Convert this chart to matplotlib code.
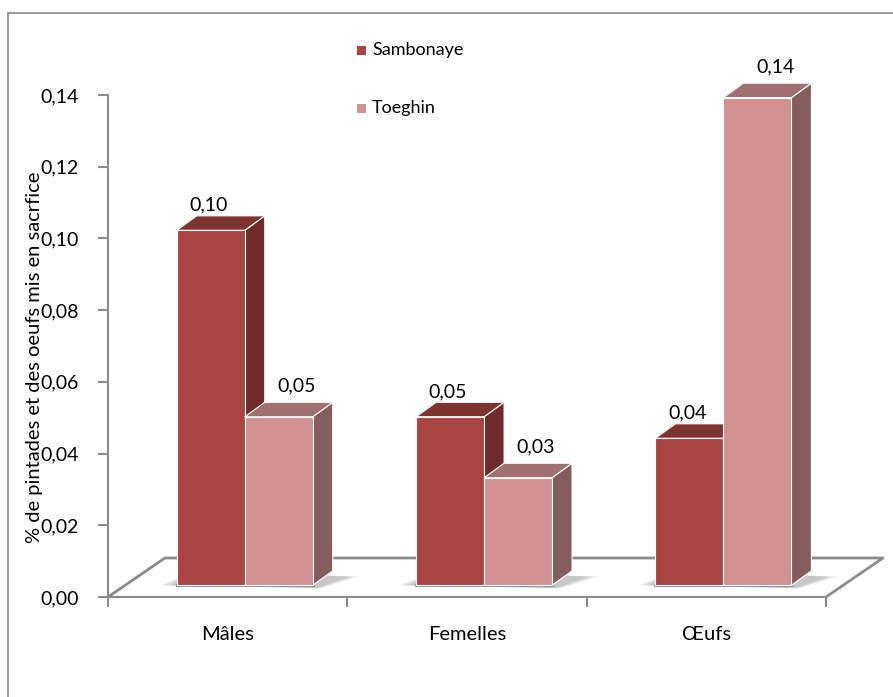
import matplotlib.pyplot as plt
from matplotlib.patches import Polygon, Rectangle

plt.rcParams['font.family'] = ['Lato', 'DejaVu Sans']

categories = ['Mâles', 'Femelles', 'Œufs']
series = ['Sambonaye', 'Toeghin']
sambonaye = [0.099, 0.047, 0.041]
toeghin = [0.047, 0.030, 0.136]
yticks = [0.00, 0.02, 0.04, 0.06, 0.08, 0.10, 0.12, 0.14]

# front / side / top colours per series
faces = {
    'Sambonaye': ('#a94643', '#6e2b2a', '#7e3331'),
    'Toeghin': ('#d29292', '#865d5d', '#a17171'),
}

W, H = 893, 697
fig = plt.figure(figsize=(W / 100, H / 100), dpi=100)
ax = fig.add_axes([108 / W, 100 / H, 718 / W, 502 / H])
ax.set_xlim(0, 3)
ax.set_ylim(0, 0.14)

# outer chart frame
fig.patches.append(Rectangle((8 / W, -0.1), 1.2, 1.1 - 13 / H, transform=fig.transFigure,
                             fill=False, edgecolor='#8a8a8a', lw=1.2))

# floor depth and bar depth in data units
fdx, fdy = 0.238, 0.01088
bdx, bdy = 0.0836, 0.00404
bw = 0.284
shift_x, shift_y = 0.3 * fdx, 0.3 * fdy

grey = '#8c8c8c'
ax.plot([0, fdx, 3 + fdx, 3], [0, fdy, fdy, 0], color=grey, lw=2, clip_on=False, zorder=1)
ax.fill([0, fdx, 3 + fdx, 3], [0, fdy, fdy, 0], color='white', clip_on=False, zorder=0.5)

for i in range(len(categories)):
    x0 = i + 0.5 + shift_x - bw
    x1 = x0 + 2 * bw
    # soft shadow on the floor
    for k, a in enumerate([0.12, 0.12, 0.15]):
        pad = 0.07 - k * 0.02
        ax.add_patch(Polygon([(x0 - pad, shift_y), (x1 + pad * 0.5, shift_y - 0.0008),
                              (x1 + bdx + pad + 0.04, shift_y + bdy * 0.6),
                              (x0 + bdx, shift_y + bdy)],
                             closed=True, facecolor='#606060', edgecolor='none',
                             alpha=a, clip_on=False, zorder=2))
    ax.plot([x0, x1], [shift_y, shift_y], color=grey, lw=2, clip_on=False, zorder=2.5)

    for j, (name, vals) in enumerate([('Sambonaye', sambonaye), ('Toeghin', toeghin)]):
        v = vals[i]
        front, side, top = faces[name]
        xl = x0 + j * bw
        xr = xl + bw
        yb, yt = shift_y, shift_y + v
        z = 3 + j
        ax.add_patch(Polygon([(xr, yb), (xr + bdx, yb + bdy), (xr + bdx, yt + bdy), (xr, yt)],
                             facecolor=side, edgecolor='white', lw=0.8, clip_on=False, zorder=z))
        ax.add_patch(Polygon([(xl, yt), (xl + bdx, yt + bdy), (xr + bdx, yt + bdy), (xr, yt)],
                             facecolor=top, edgecolor='white', lw=0.8, clip_on=False, zorder=z))
        ax.add_patch(Rectangle((xl, yb), bw, v, facecolor=front, edgecolor='white', lw=0.8,
                               clip_on=False, zorder=z + 0.1))
        # Toeghin labels sit a bit higher and further right
        lx = xl + bw / 2 + (bdx * 0.9 if j else -bdx * 0.1)
        ly = yt + bdy + (0.0022 if j else 0.0006)
        ax.text(lx, ly, f'{v:.2f}'.replace('.', ','),
                ha='center', va='bottom', fontsize=14, zorder=10)

# axes
for s in ['top', 'right']:
    ax.spines[s].set_visible(False)
for s in ['left', 'bottom']:
    ax.spines[s].set_color(grey)
    ax.spines[s].set_linewidth(1.5)
ax.set_yticks(yticks)
ax.set_yticklabels([f'{t:.2f}'.replace('.', ',') for t in yticks], fontsize=14)
ax.set_xticks([0, 1, 2, 3])
ax.set_xticklabels([])
ax.tick_params(axis='both', color=grey, width=1.5, length=7, direction='out')
ax.tick_params(axis='y', pad=14)
for i, c in enumerate(categories):
    ax.text(i + 0.5, -0.0105, c, ha='center', va='center', fontsize=14.5)
ax.patch.set_visible(False)

fig.text(35 / W, 1 - 357 / H, '% de pintades et des oeufs mis en sacrfice', rotation=90,
         ha='center', va='center', fontsize=14.5)

# legend
for k, name in enumerate(series):
    y = 1 - (50 + 58 * k) / H
    fig.patches.append(Rectangle((357 / W, y - 5 / H), 9 / W, 9 / H, transform=fig.transFigure,
                                 facecolor=faces[name][0], edgecolor='none'))
    fig.text(372 / W, y, name, ha='left', va='center', fontsize=13)

plt.savefig('out.png', dpi=100)
